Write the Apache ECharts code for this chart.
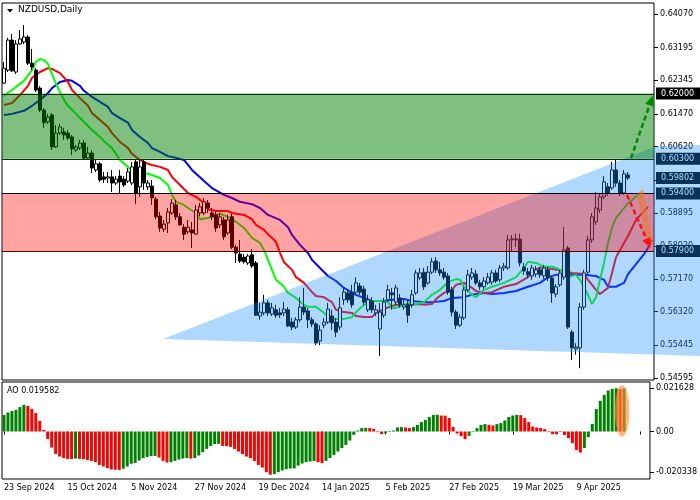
<!DOCTYPE html>
<html><head><meta charset="utf-8">
<script src="https://cdn.jsdelivr.net/npm/echarts@6/dist/echarts.min.js"></script>
<style>html,body{margin:0;padding:0;background:#fff}#c{width:700px;height:500px}</style>
</head><body><div id="c"></div>
<script>
// ---------- data ----------
const tickLabels = ['23 Sep 2024','15 Oct 2024','5 Nov 2024','27 Nov 2024','19 Dec 2024','14 Jan 2025','5 Feb 2025','27 Feb 2025','19 Mar 2025','9 Apr 2025'];
const tickStep = 16;
const slotCount = 163;
// [open, close, low, high]
const candles = [
[0.6227,0.6266,0.6225,0.6282],[0.6261,0.6339,0.6256,0.6345],[0.6339,0.6259,0.6256,0.6355],[0.6256,0.6329,0.6251,0.6339],
[0.6329,0.6342,0.6327,0.6365],[0.6334,0.6347,0.6329,0.6378],[0.6347,0.6279,0.6274,0.6352],[0.6279,0.6269,0.6261,0.6316],
[0.6261,0.6209,0.6204,0.6266],[0.6214,0.6157,0.6152,0.6219],[0.6157,0.6124,0.6111,0.6162],[0.6126,0.6139,0.6121,0.6147],
[0.6144,0.6061,0.6053,0.6149],[0.6061,0.6097,0.6058,0.6118],[0.6097,0.6113,0.6092,0.6121],[0.6100,0.6092,0.6079,0.6111],
[0.6097,0.6084,0.6079,0.6105],[0.6087,0.6056,0.6040,0.6092],[0.6053,0.6061,0.6048,0.6066],[0.6058,0.6071,0.6053,0.6079],
[0.6071,0.6032,0.6027,0.6079],[0.6032,0.6045,0.6027,0.6061],[0.6045,0.6006,0.5993,0.6053],[0.6001,0.6017,0.5996,0.6027],
[0.6017,0.5975,0.5970,0.6022],[0.5983,0.5977,0.5967,0.5996],[0.5980,0.5983,0.5967,0.5996],[0.5983,0.5967,0.5944,0.6001],
[0.5967,0.5977,0.5962,0.5985],[0.5985,0.5970,0.5941,0.6001],[0.5977,0.5962,0.5957,0.5985],[0.5972,0.5996,0.5967,0.6006],
[0.5967,0.6009,0.5962,0.6022],[0.6022,0.5941,0.5912,0.6027],[0.5957,0.6009,0.5931,0.6027],[0.6022,0.5967,0.5949,0.6027],
[0.5957,0.5967,0.5949,0.5975],[0.5959,0.5928,0.5910,0.5975],[0.5925,0.5879,0.5873,0.5931],[0.5881,0.5850,0.5840,0.5892],
[0.5847,0.5860,0.5840,0.5871],[0.5863,0.5892,0.5837,0.5902],[0.5889,0.5915,0.5884,0.5925],[0.5910,0.5879,0.5871,0.5923],
[0.5879,0.5858,0.5855,0.5889],[0.5852,0.5834,0.5819,0.5860],[0.5840,0.5852,0.5834,0.5871],[0.5845,0.5837,0.5798,0.5866],
[0.5834,0.5897,0.5832,0.5910],[0.5889,0.5905,0.5881,0.5915],[0.5889,0.5918,0.5884,0.5928],[0.5915,0.5902,0.5889,0.5923],
[0.5889,0.5879,0.5871,0.5902],[0.5884,0.5850,0.5840,0.5892],[0.5858,0.5879,0.5850,0.5889],[0.5871,0.5827,0.5819,0.5879],
[0.5837,0.5871,0.5832,0.5884],[0.5879,0.5800,0.5795,0.5889],[0.5800,0.5785,0.5759,0.5806],[0.5782,0.5764,0.5759,0.5819],
[0.5774,0.5762,0.5757,0.5782],[0.5759,0.5777,0.5754,0.5782],[0.5780,0.5751,0.5746,0.5795],[0.5759,0.5623,0.5621,0.5764],
[0.5621,0.5631,0.5611,0.5655],[0.5629,0.5655,0.5623,0.5676],[0.5655,0.5629,0.5621,0.5663],[0.5626,0.5642,0.5621,0.5655],
[0.5637,0.5623,0.5616,0.5650],[0.5629,0.5624,0.5616,0.5642],[0.5629,0.5639,0.5621,0.5657],[0.5637,0.5595,0.5592,0.5644],
[0.5605,0.5592,0.5584,0.5616],[0.5592,0.5611,0.5587,0.5618],[0.5611,0.5644,0.5605,0.5670],[0.5644,0.5631,0.5623,0.5694],
[0.5634,0.5611,0.5589,0.5642],[0.5611,0.5600,0.5592,0.5618],[0.5600,0.5551,0.5545,0.5605],[0.5556,0.5584,0.5545,0.5597],
[0.5597,0.5605,0.5589,0.5616],[0.5605,0.5639,0.5600,0.5655],[0.5621,0.5603,0.5584,0.5637],[0.5605,0.5579,0.5566,0.5616],
[0.5592,0.5642,0.5584,0.5670],[0.5663,0.5683,0.5650,0.5694],[0.5681,0.5663,0.5655,0.5689],[0.5683,0.5650,0.5642,0.5702],
[0.5683,0.5707,0.5676,0.5722],[0.5699,0.5683,0.5676,0.5707],[0.5691,0.5657,0.5650,0.5699],[0.5637,0.5663,0.5631,0.5676],
[0.5660,0.5637,0.5629,0.5670],[0.5629,0.5637,0.5621,0.5650],[0.5587,0.5631,0.5517,0.5655],[0.5623,0.5657,0.5616,0.5668],
[0.5663,0.5689,0.5657,0.5702],[0.5681,0.5676,0.5637,0.5694],[0.5657,0.5694,0.5650,0.5702],[0.5668,0.5650,0.5642,0.5678],
[0.5644,0.5650,0.5637,0.5663],[0.5650,0.5623,0.5603,0.5663],[0.5650,0.5676,0.5642,0.5689],[0.5681,0.5733,0.5676,0.5741],
[0.5720,0.5733,0.5715,0.5746],[0.5735,0.5697,0.5689,0.5746],[0.5707,0.5735,0.5702,0.5751],[0.5735,0.5762,0.5730,0.5772],
[0.5764,0.5741,0.5733,0.5774],[0.5741,0.5733,0.5725,0.5762],[0.5735,0.5722,0.5715,0.5746],[0.5725,0.5683,0.5676,0.5733],
[0.5689,0.5631,0.5620,0.5697],[0.5631,0.5597,0.5587,0.5637],[0.5597,0.5618,0.5592,0.5626],[0.5616,0.5689,0.5611,0.5697],
[0.5689,0.5728,0.5683,0.5741],[0.5722,0.5733,0.5715,0.5746],[0.5730,0.5707,0.5702,0.5741],[0.5707,0.5697,0.5689,0.5715],
[0.5697,0.5712,0.5691,0.5722],[0.5707,0.5722,0.5702,0.5733],[0.5709,0.5733,0.5702,0.5741],[0.5733,0.5712,0.5707,0.5741],
[0.5715,0.5746,0.5709,0.5754],[0.5746,0.5751,0.5738,0.5759],[0.5746,0.5819,0.5741,0.5832],[0.5819,0.5822,0.5790,0.5832],
[0.5821,0.5819,0.5800,0.5835],[0.5821,0.5759,0.5750,0.5835],[0.5748,0.5738,0.5728,0.5759],[0.5736,0.5728,0.5720,0.5746],
[0.5725,0.5746,0.5715,0.5754],[0.5730,0.5741,0.5722,0.5751],[0.5741,0.5728,0.5720,0.5749],[0.5725,0.5746,0.5718,0.5754],
[0.5741,0.5720,0.5712,0.5749],[0.5720,0.5681,0.5655,0.5725],[0.5678,0.5697,0.5670,0.5704],[0.5702,0.5733,0.5697,0.5741],
[0.5722,0.5793,0.5715,0.5853],[0.5798,0.5592,0.5587,0.5803],[0.5579,0.5538,0.5506,0.5584],[0.5535,0.5540,0.5520,0.5550],
[0.5538,0.5644,0.5485,0.5655],[0.5644,0.5733,0.5637,0.5741],[0.5735,0.5819,0.5728,0.5830],[0.5819,0.5879,0.5811,0.5889],
[0.5866,0.5902,0.5858,0.5944],[0.5897,0.5931,0.5889,0.5941],[0.5931,0.5970,0.5925,0.5985],[0.5957,0.5941,0.5933,0.5967],
[0.5954,0.6001,0.5949,0.6022],[0.6001,0.5967,0.5957,0.6030],[0.5967,0.5941,0.5933,0.5975],[0.5941,0.5991,0.5936,0.6001],
[0.5988,0.59802,0.5975,0.5996]
];
// Alligator-style lines: [bar index, price]
const lipsLine = [[0,0.6194],[2,0.6209],[5,0.6233],[7,0.6261],[8,0.6282],[9,0.6290],[10,0.6287],[11,0.6277],[12,0.6251],[13,0.6225],[15,0.6183],[16,0.6168],[18,0.6147],[20,0.6126],[22,0.6105],[24,0.6087],[25,0.6076],[27,0.6058],[28,0.6043],[29,0.6027],[31,0.6009],[32,0.5998],[34,0.5993],[36,0.5991],[37,0.5988],[39,0.5980],[41,0.5962],[42,0.5936],[43,0.5918],[45,0.5910],[46,0.5902],[48,0.5889],[49,0.5873],[51,0.5876],[53,0.5884],[54,0.5887],[56,0.5879],[58,0.5866],[60,0.5850],[62,0.5824],[64,0.5811],[65,0.5793],[66,0.5767],[67,0.5741],[68,0.5715],[70,0.5697],[71,0.5681],[73,0.5668],[75,0.5650],[76,0.5645],[78,0.5645],[80,0.5629],[81,0.5618],[82,0.5611],[83,0.5613],[85,0.5613],[87,0.5618],[88,0.5631],[90,0.5650],[92,0.5660],[94,0.5660],[96,0.5657],[97,0.5642],[98,0.5642],[100,0.5650],[101,0.5655],[103,0.5652],[105,0.5657],[107,0.5676],[109,0.5689],[111,0.5709],[113,0.5717],[114,0.5715],[115,0.5697],[117,0.5676],[118,0.5670],[120,0.5689],[122,0.5697],[125,0.5707],[128,0.5722],[130,0.5746],[131,0.5762],[133,0.5759],[135,0.5749],[137,0.5749],[138,0.5746],[140,0.5735],[141,0.5722],[143,0.5728],[144,0.5715],[146,0.5676],[147,0.5652],[148,0.5670],[149,0.5715],[150,0.5759],[151,0.5811],[152,0.5850],[153,0.5876],[155,0.5902],[156,0.5915],[157,0.5923],[159,0.5941]];
const teethLine = [[0,0.6170],[2,0.6175],[4,0.6196],[6,0.6220],[7,0.6241],[9,0.6256],[11,0.6266],[12,0.6264],[14,0.6253],[16,0.6230],[17,0.6209],[19,0.6188],[21,0.6168],[22,0.6149],[24,0.6131],[26,0.6113],[27,0.6097],[29,0.6074],[31,0.6058],[32,0.6043],[34,0.6027],[36,0.6017],[37,0.6014],[39,0.6009],[41,0.6001],[42,0.5983],[44,0.5962],[46,0.5941],[48,0.5931],[50,0.5915],[51,0.5899],[53,0.5894],[56,0.5894],[57,0.5889],[60,0.5884],[62,0.5873],[63,0.5858],[65,0.5845],[66,0.5834],[68,0.5814],[69,0.5785],[70,0.5761],[72,0.5741],[73,0.5722],[75,0.5707],[77,0.5683],[78,0.5673],[80,0.5670],[81,0.5663],[82,0.5657],[83,0.5637],[85,0.5631],[87,0.5629],[88,0.5621],[90,0.5618],[92,0.5618],[93,0.5629],[95,0.5639],[97,0.5647],[98,0.5650],[100,0.5647],[102,0.5650],[104,0.5652],[105,0.5650],[107,0.5652],[108,0.5665],[110,0.5681],[112,0.5689],[113,0.5702],[115,0.5707],[117,0.5694],[118,0.5686],[120,0.5681],[122,0.5683],[125,0.5697],[128,0.5704],[131,0.5722],[133,0.5743],[135,0.5749],[137,0.5743],[140,0.5738],[142,0.5733],[145,0.5730],[146,0.5715],[148,0.5689],[149,0.5678],[151,0.5694],[152,0.5733],[153,0.5774],[155,0.5811],[156,0.5829],[157,0.5850],[158,0.5871],[160,0.5894],[161,0.5905]];
const jawLine = [[0,0.6144],[2,0.6147],[5,0.6155],[7,0.6168],[9,0.6183],[11,0.6201],[12,0.6214],[14,0.6230],[16,0.6235],[17,0.6233],[19,0.6220],[20,0.6207],[22,0.6191],[24,0.6178],[26,0.6165],[27,0.6149],[29,0.6136],[31,0.6124],[32,0.6105],[34,0.6087],[36,0.6071],[37,0.6058],[39,0.6048],[41,0.6037],[42,0.6035],[45,0.6027],[47,0.6001],[50,0.5972],[52,0.5954],[55,0.5936],[57,0.5928],[59,0.5918],[62,0.5912],[64,0.5902],[66,0.5884],[69,0.5871],[71,0.5852],[72,0.5832],[74,0.5806],[76,0.5785],[77,0.5767],[79,0.5746],[81,0.5725],[83,0.5712],[85,0.5694],[88,0.5676],[90,0.5668],[92,0.5660],[95,0.5660],[97,0.5663],[100,0.5665],[102,0.5660],[105,0.5657],[107,0.5657],[110,0.5660],[112,0.5668],[115,0.5670],[117,0.5676],[120,0.5681],[122,0.5678],[125,0.5681],[128,0.5686],[131,0.5697],[134,0.5707],[136,0.5722],[138,0.5728],[142,0.5728],[145,0.5728],[148,0.5725],[150,0.5715],[151,0.5697],[153,0.5697],[155,0.5707],[156,0.5730],[158,0.5756],[160,0.5782],[161,0.5798],[162,0.5819]];
const aoValues = [0.0083,0.0095,0.0103,0.0108,0.0122,0.0133,0.0128,0.0113,0.0092,0.0053,0.0008,-0.0037,-0.0080,-0.0112,-0.0125,-0.0133,-0.0137,-0.0138,-0.0135,-0.0137,
-0.0138,-0.0143,-0.0147,-0.0153,-0.0167,-0.0175,-0.0183,-0.0190,-0.0191,-0.0192,-0.0186,-0.0175,-0.0161,-0.0157,-0.0145,-0.0133,-0.0127,-0.0123,-0.0122,-0.0130,
-0.0147,-0.0155,-0.0153,-0.0147,-0.0140,-0.0135,-0.0133,-0.0135,-0.0133,-0.0120,-0.0103,-0.0087,-0.0073,-0.0063,-0.0062,-0.0072,-0.0073,-0.0077,-0.0087,-0.0100,
-0.0113,-0.0125,-0.0133,-0.0147,-0.0167,-0.0180,-0.0203,-0.0216,-0.0213,-0.0203,-0.0195,-0.0188,-0.0185,-0.0184,-0.0170,-0.0160,-0.0153,-0.0150,-0.0147,-0.0153,
-0.0158,-0.0147,-0.0133,-0.0117,-0.0100,-0.0083,-0.0067,-0.0045,-0.0017,0.0005,0.0017,0.0018,0.0017,0.0013,-0.0003,-0.0013,-0.0008,0.0003,0.0005,0.0020,
0.0022,0.0020,0.0017,0.0022,0.0033,0.0047,0.0058,0.0072,0.0083,0.0084,0.0080,0.0079,0.0067,0.0023,-0.0010,-0.0023,-0.0038,-0.0022,-0.0003,0.0017,
0.0033,0.0037,0.0033,0.0030,0.0037,0.0042,0.0055,0.0072,0.0080,0.0083,0.0082,0.0067,0.0047,0.0025,0.0020,0.0017,0.0012,-0.0003,-0.0013,-0.0014,
-0.0003,-0.0017,-0.0033,-0.0058,-0.0092,-0.0105,-0.0083,-0.0028,0.0038,0.0112,0.0153,0.0183,0.0205,0.0213,0.0216,0.0212,0.0215];
const aoCaption = 'AO 0.019582';
const priceTicks = [0.64070,0.63195,0.62345,0.61470,0.60620,0.59745,0.58895,0.58020,0.57170,0.56320,0.55445,0.54595];
const aoTicks = [0.021628, 0, -0.020338];
const levels = [0.62000, 0.60300, 0.59400, 0.57900];
const lastPrice = 0.59802;
const zones = [[0.603, 0.620], [0.579, 0.594]];
const triangle = [[39.75,0.5561],[163,0.6063],[174,0.6066],[174,0.5517]];
const upArrow = [[156.75,0.6032],[162.2,0.6194]];
const downArrow = [[155.75,0.5936],[161.6,0.5798]];
const highlight = [[158.2,0.5938],[159.8,0.5951],[162.3,0.5808],[161.1,0.5800]];
const aoHighlight = {center:[155.5, 0.0103], halfBars:1.8, halfValue:0.0128};

// ---------- styles ----------
const FONT = 'DejaVu Sans';
const levelColors = ['#003300','#003300','#000000','#5c0000'];
const zoneColors = ['rgba(0,128,0,0.5)','rgba(255,0,0,0.36)'];

const cats = Array.from({length: slotCount}, (_, i) => String(i));
function px(api, i, v) {
  const a = api.coord([0, v]), b = api.coord([1, v]);
  return [a[0] + i * (b[0] - a[0]), a[1]];
}
function overlay(z, grid, y0, fn) {
  return {type:'custom', xAxisIndex:grid, yAxisIndex:grid, z:z, silent:true, clip:false,
          animation:false, data:[[0, y0]], renderItem:fn};
}
function arrowEls(api, pts, color) {
  const a = px(api, pts[0][0], pts[0][1]), b = px(api, pts[1][0], pts[1][1]);
  const dx = b[0]-a[0], dy = b[1]-a[1], L = Math.hypot(dx, dy), ux = dx/L, uy = dy/L;
  const hl = 10, hw = 4.5;
  const base = [b[0]-ux*hl, b[1]-uy*hl];
  return [
    {type:'line', shape:{x1:a[0], y1:a[1], x2:base[0], y2:base[1]},
     style:{stroke:color, lineWidth:2.5, lineDash:[5,3]}},
    {type:'polygon', shape:{points:[b, [base[0]-uy*hw, base[1]+ux*hw], [base[0]+uy*hw, base[1]-ux*hw]]},
     style:{fill:color}}
  ];
}

const aoData = aoValues.map((v, i) => ({value:v,
  itemStyle:{color: (i === 0 || v > aoValues[i-1]) ? '#008000' : '#ff0000'}}));

const chart = echarts.init(document.getElementById('c'));
chart.setOption({
  animation:false,
  backgroundColor:'#ffffff',
  grid:[
    {left:2, top:3, width:652, height:377, show:true, borderColor:'#000', borderWidth:1},
    {left:2, top:382, width:652, height:97, show:true, borderColor:'#000', borderWidth:1}
  ],
  xAxis:[
    {type:'category', gridIndex:0, data:cats, boundaryGap:true,
     axisLine:{show:false}, axisTick:{show:false}, axisLabel:{show:false}, splitLine:{show:false}},
    {type:'category', gridIndex:1, data:cats, boundaryGap:true,
     axisLine:{show:false},
     axisTick:{show:true, alignWithLabel:true, length:3, interval:(i)=> i % tickStep === 0, lineStyle:{color:'#000'}},
     axisLabel:{show:true, interval:(i)=> i % tickStep === 0, align:'left', margin:5,
       fontFamily:FONT, fontSize:8, color:'#000',
       formatter:(v, i)=> tickLabels[Math.round(i / tickStep)] || ''},
     splitLine:{show:false}}
  ],
  yAxis:[
    {type:'value', gridIndex:0, position:'right', min:0.54543, max:0.64356, scale:true,
     axisLine:{show:false}, splitLine:{show:false},
     axisTick:{show:true, length:4, customValues:priceTicks, lineStyle:{color:'#000'}},
     axisLabel:{show:true, customValues:priceTicks, margin:6, fontFamily:FONT, fontSize:8, color:'#000',
       formatter:(v)=> v.toFixed(5)}},
    {type:'value', gridIndex:1, position:'right', min:-0.02373, max:0.02473,
     axisLine:{show:false}, splitLine:{show:false},
     axisTick:{show:true, length:4, customValues:aoTicks, lineStyle:{color:'#000'}},
     axisLabel:{show:true, customValues:aoTicks, margin:6, fontFamily:FONT, fontSize:8, color:'#000',
       formatter:(v)=> v === 0 ? '0.00' : v.toFixed(6)}}
  ],
  graphic:[
    {type:'polygon', shape:{points:[[7,9],[13,9],[10,12.5]]}, style:{fill:'#000'}},
    {type:'text', left:18, top:5, style:{text:'NZDUSD,Daily', fontFamily:FONT, fontSize:9, fill:'#000'}},
    {type:'text', left:7, top:387, style:{text:aoCaption, fontFamily:FONT, fontSize:8, fill:'#000'}}
  ],
  series:[
    {type:'candlestick', xAxisIndex:0, yAxisIndex:0, z:2, barWidth:3, data:candles,
     itemStyle:{color:'#ffffff', color0:'#000000', borderColor:'#000000', borderColor0:'#000000', borderWidth:1}},
    {type:'line', xAxisIndex:0, yAxisIndex:0, z:2, data:jawLine, showSymbol:false, symbol:'none',
     lineStyle:{color:'#0000ff', width:2}},
    {type:'line', xAxisIndex:0, yAxisIndex:0, z:2, data:teethLine, showSymbol:false, symbol:'none',
     lineStyle:{color:'#ff0000', width:2}},
    {type:'line', xAxisIndex:0, yAxisIndex:0, z:2, data:lipsLine, showSymbol:false, symbol:'none',
     lineStyle:{color:'#00ff00', width:2}},
    // price boxes on the right axis
    overlay(3, 0, 0.6, (p, api) => {
      const right = px(api, slotCount - 0.5, 0.6)[0];
      const vals = levels.concat([lastPrice]);
      return {type:'group', children: vals.map(v => ({type:'text', x:right + 2, y:px(api, 0, v)[1],
        style:{text:v.toFixed(5), fill:'#fff', backgroundColor:'#000', padding:[2,6,2,5],
               fontFamily:FONT, fontSize:8, verticalAlign:'middle', align:'left'}}))};
    }),
    // light-blue triangle
    overlay(4, 0, 0.6, (p, api) => ({type:'polygon',
      shape:{points: triangle.map(q => px(api, q[0], q[1]))},
      style:{fill:'rgba(30,144,255,0.35)'}})),
    // zones
    overlay(5, 0, 0.6, (p, api) => {
      const l = px(api, -0.5, 0.6)[0], r = px(api, slotCount - 0.5, 0.6)[0];
      return {type:'group', children: zones.map((z, k) => {
        const y1 = px(api, 0, z[1])[1], y0 = px(api, 0, z[0])[1];
        return {type:'rect', shape:{x:l, y:y1, width:r - l, height:y0 - y1}, style:{fill:zoneColors[k]}};
      })};
    }),
    // level lines
    overlay(6, 0, 0.6, (p, api) => {
      const l = px(api, -0.5, 0.6)[0], r = px(api, slotCount - 0.5, 0.6)[0];
      return {type:'group', children: levels.map((v, k) => {
        const y = Math.round(px(api, 0, v)[1]) + 0.5;
        return {type:'line', shape:{x1:l, y1:y, x2:r, y2:y}, style:{stroke:levelColors[k], lineWidth:1}};
      })};
    }),
    // orange highlight + arrows
    overlay(7, 0, 0.6, (p, api) => ({type:'group', children: [
      {type:'polygon', shape:{points: highlight.map(q => px(api, q[0], q[1]))}, style:{fill:'rgba(240,120,40,0.6)'}}
    ].concat(arrowEls(api, upArrow, '#008a00'), arrowEls(api, downArrow, '#ff1010'))})),
    {type:'bar', xAxisIndex:1, yAxisIndex:1, z:2, barWidth:3, data:aoData},
    overlay(7, 1, 0, (p, api) => {
      const c = px(api, aoHighlight.center[0], aoHighlight.center[1]);
      const rx = px(api, aoHighlight.halfBars, 0)[0] - px(api, 0, 0)[0];
      const ry = Math.abs(px(api, 0, aoHighlight.halfValue)[1] - px(api, 0, 0)[1]);
      const pts = [];
      for (let k = 0; k < 48; k++) { const t = k / 48 * Math.PI * 2; pts.push([c[0] + rx*Math.cos(t), c[1] + ry*Math.sin(t)]); }
      return {type:'polygon', shape:{points:pts}, style:{fill:'rgba(255,140,50,0.5)', shadowBlur:3, shadowColor:'rgba(255,140,50,0.6)'}};
    })
  ]
});
</script>
</body></html>
